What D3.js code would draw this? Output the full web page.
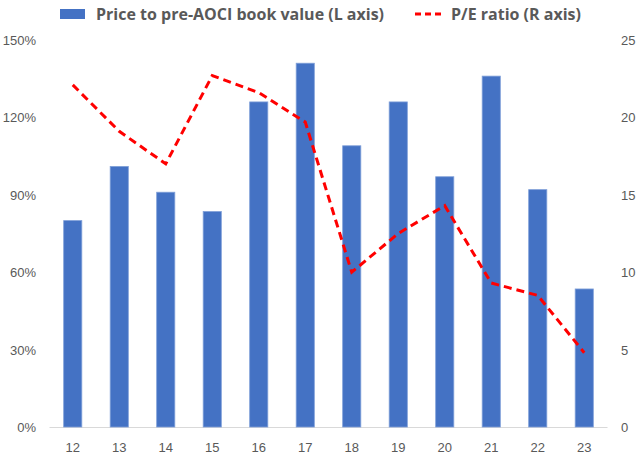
<!DOCTYPE html>
<html>
<head>
<meta charset="utf-8">
<script src="https://cdn.jsdelivr.net/npm/d3@7"></script>
<style>
  body { margin: 0; background: #fff; }
  svg { display: block; font-family: "Open Sans", "Noto Sans", sans-serif; }
</style>
</head>
<body>
<svg id="chart" width="640" height="460"></svg>
<script>
const categories = ["12","13","14","15","16","17","18","19","20","21","22","23"];
const priceToBook = [80, 101, 91, 83.5, 126, 141, 109, 126, 97, 136, 92, 53.5];
const peRatio = [22.1, 19.1, 17.0, 22.7, 21.6, 19.7, 10.0, 12.5, 14.3, 9.3, 8.5, 4.8];
const leftTicks = [0, 30, 60, 90, 120, 150];
const rightTicks = [0, 5, 10, 15, 20, 25];
const seriesNames = ["Price to pre-AOCI book value (L axis)", "P/E ratio (R axis)"];

const svg = d3.select("#chart");
const m = { left: 49.5, right: 607.5, top: 40, bottom: 427 };

const x = d3.scaleBand().domain(categories).range([m.left, m.right]).paddingInner(0.61).paddingOuter(0.305);
const yL = d3.scaleLinear().domain([0, 150]).range([m.bottom, m.top]);
const yR = d3.scaleLinear().domain([0, 25]).range([m.bottom, m.top]);

const textColor = "#595959";

// baseline
svg.append("line")
  .attr("x1", m.left).attr("x2", m.right)
  .attr("y1", m.bottom + 0.5).attr("y2", m.bottom + 0.5)
  .attr("stroke", "#d9d9d9").attr("stroke-width", 1);

// bars
svg.append("g").selectAll("rect").data(priceToBook).join("rect")
  .attr("x", (d, i) => x(categories[i]))
  .attr("width", x.bandwidth())
  .attr("y", d => yL(d))
  .attr("height", d => yL(0) - yL(d))
  .attr("fill", "#4472C4")
  .attr("stroke", "#7f9fd8").attr("stroke-width", 0.8);

// line
const line = d3.line()
  .x((d, i) => x(categories[i]) + x.bandwidth() / 2)
  .y(d => yR(d));
svg.append("path").datum(peRatio)
  .attr("d", line)
  .attr("fill", "none")
  .attr("stroke", "#FF0000")
  .attr("stroke-width", 3)
  .attr("stroke-dasharray", "8,5");

// left axis
const axL = d3.axisLeft(yL).tickValues(leftTicks).tickFormat(d => d + "%").tickSize(0).tickPadding(0);
const gL = svg.append("g").attr("transform", "translate(36,0)").call(axL);
gL.select(".domain").remove();
gL.selectAll("text").attr("fill", textColor).style("font-size", "13px").attr("dy", "0.35em");

// right axis
const axR = d3.axisRight(yR).tickValues(rightTicks).tickSize(0).tickPadding(0);
const gR = svg.append("g").attr("transform", "translate(621,0)").call(axR);
gR.select(".domain").remove();
gR.selectAll("text").attr("fill", textColor).style("font-size", "13px").attr("dy", "0.35em");

// bottom axis
const axB = d3.axisBottom(x).tickSize(0).tickPadding(0);
const gB = svg.append("g").attr("transform", "translate(0,447)").call(axB);
gB.select(".domain").remove();
gB.selectAll("text").attr("fill", textColor).style("font-size", "13px").attr("dy", "0.35em");

// legend
const lg = svg.append("g");
lg.append("rect").attr("x", 60).attr("y", 9).attr("width", 25).attr("height", 10).attr("fill", "#4472C4");
lg.append("text").attr("x", 96).attr("y", 14).attr("dy", "0.35em")
  .attr("fill", textColor).style("font-size", "16px").style("font-weight", "bold")
  .text(seriesNames[0]);
lg.append("line").attr("x1", 415).attr("x2", 442).attr("y1", 14).attr("y2", 14)
  .attr("stroke", "#FF0000").attr("stroke-width", 3).attr("stroke-dasharray", "6,4");
lg.append("text").attr("x", 451).attr("y", 14).attr("dy", "0.35em")
  .attr("fill", textColor).style("font-size", "16px").style("font-weight", "bold")
  .text(seriesNames[1]);
</script>
</body>
</html>
